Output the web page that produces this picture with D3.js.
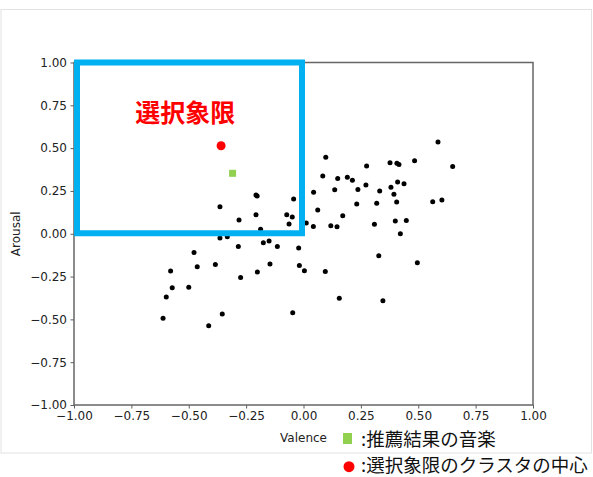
<!DOCTYPE html>
<html>
<head>
<meta charset="utf-8">
<script src="https://cdn.jsdelivr.net/npm/d3@7"></script>
<style>
body { margin: 0; background: #fff; }
</style>
</head>
<body>
<div id="container"></div>
<script>
// valence / arousal of each song (black dots)
var valence = [-0.207, -0.202, -0.364, -0.281, -0.207, -0.187, -0.364, -0.332, -0.150, -0.284,
    -0.175, -0.114, -0.477, -0.579, -0.463, -0.384, -0.274, -0.201, -0.146, -0.572,
    -0.500, -0.598, -0.612, -0.354, -0.413, 0.097, 0.275, 0.377, 0.407, 0.416,
    0.084, 0.149, 0.191, 0.213, 0.410, 0.438, 0.272, 0.381, 0.044, 0.136,
    0.237, 0.332, 0.394, -0.043, 0.062, 0.232, 0.319, 0.406, -0.073, -0.049,
    0.171, -0.063, 0.012, 0.043, 0.119, 0.146, 0.309, 0.400, 0.448, 0.422,
    -0.021, -0.018, 0.004, 0.095, 0.328, 0.156, 0.346, -0.047, 0.586, 0.484,
    0.650, 0.563, 0.603, 0.496];
var arousal = [0.227, 0.220, 0.158, 0.080, 0.111, 0.026, -0.025, -0.017, -0.042, -0.075,
    -0.052, -0.075, -0.110, -0.217, -0.192, -0.179, -0.256, -0.223, -0.177, -0.315,
    -0.313, -0.369, -0.494, -0.469, -0.537, 0.446, 0.396, 0.415, 0.411, 0.405,
    0.337, 0.322, 0.330, 0.312, 0.302, 0.292, 0.285, 0.271, 0.242, 0.257,
    0.259, 0.250, 0.230, 0.203, 0.139, 0.174, 0.178, 0.185, 0.111, 0.098,
    0.105, 0.057, 0.063, 0.043, 0.047, 0.041, 0.055, 0.074, 0.078, 0.000,
    -0.083, -0.186, -0.216, -0.221, -0.128, -0.377, -0.391, -0.461, 0.536, 0.427,
    0.392, 0.187, 0.197, -0.169];

var recommended = [-0.309, 0.353];   // green square
var clusterCenter = [-0.359, 0.514]; // red circle
var quadrant = {x: [-1, 0], y: [0, 1]};

var ticks = [-1.00, -0.75, -0.50, -0.25, 0.00, 0.25, 0.50, 0.75, 1.00];
var legendLabels = [":推薦結果の音楽", ":選択象限のクラスタの中心"];
var quadrantLabel = "選択象限";

var W = 593, H = 477;
var margin = {top: 62.5, right: 60, bottom: 72, left: 74};
var width = 533 - margin.left, height = 405 - margin.top;

var svg = d3.select("#container").append("svg")
    .attr("width", W).attr("height", H)
    .style("font-family", "DejaVu Sans, sans-serif");

// light frame round the figure
svg.append("rect")
    .attr("x", 1).attr("y", 9.5).attr("width", 590.5).attr("height", 443.5)
    .attr("fill", "none").attr("stroke", "#e2e2e2").attr("stroke-width", 1);

var g = svg.append("g").attr("transform", "translate(" + margin.left + "," + margin.top + ")");

var x = d3.scaleLinear().domain([-1, 1]).range([0, width]);
var y = d3.scaleLinear().domain([-1, 1]).range([height, 0]);

var fmt = function(d) { return d3.format(".2f")(d).replace("-", "\u2212"); };

var xAxis = g.append("g").attr("transform", "translate(0," + height + ")")
    .call(d3.axisBottom(x).tickValues(ticks).tickFormat(fmt).tickSize(3.5).tickPadding(3));
var yAxis = g.append("g")
    .call(d3.axisLeft(y).tickValues(ticks).tickFormat(fmt).tickSize(3.5).tickPadding(3.5));
[xAxis, yAxis].forEach(function(a) {
    a.select(".domain").remove();
    a.selectAll("line").attr("stroke", "#333").attr("stroke-width", 0.8);
    a.selectAll("text").attr("font-size", "12px").attr("fill", "#222")
        .attr("font-family", "DejaVu Sans, sans-serif");
});

// spines
g.append("rect")
    .attr("width", width).attr("height", height)
    .attr("fill", "none").attr("stroke", "#666").attr("stroke-width", 1.5);

// axis titles
g.append("text")
    .attr("x", x(0)).attr("y", height + 37)
    .attr("text-anchor", "middle").attr("font-size", "12px").attr("fill", "#222")
    .text("Valence");
g.append("text")
    .attr("transform", "translate(" + (-54) + "," + y(0) + ") rotate(-90)")
    .attr("text-anchor", "middle").attr("font-size", "12px").attr("fill", "#222")
    .text("Arousal");

// songs
g.selectAll(".dot")
    .data(d3.range(valence.length))
    .enter().append("circle")
    .attr("class", "dot")
    .attr("cx", function(i) { return x(valence[i]); })
    .attr("cy", function(i) { return y(arousal[i]); })
    .attr("r", 2.5)
    .attr("fill", "#000");

// selected quadrant box
g.append("rect")
    .attr("x", x(quadrant.x[0]) + 3)
    .attr("y", y(quadrant.y[1]))
    .attr("width", x(quadrant.x[1]) - x(quadrant.x[0]) - 4.5)
    .attr("height", y(quadrant.y[0]) - y(quadrant.y[1]) - 0.5)
    .attr("fill", "none").attr("stroke", "#00b0f0").attr("stroke-width", 6);

g.append("text")
    .attr("x", x(-0.515)).attr("y", y(0.65))
    .attr("text-anchor", "middle")
    .attr("font-family", "Noto Sans CJK JP, sans-serif")
    .attr("font-weight", "bold").attr("font-size", "25px").attr("fill", "#ff0000")
    .text(quadrantLabel);

g.append("circle")
    .attr("cx", x(clusterCenter[0])).attr("cy", y(clusterCenter[1]))
    .attr("r", 4.5).attr("fill", "#ff0000");

g.append("rect")
    .attr("x", x(recommended[0]) - 3.5).attr("y", y(recommended[1]) - 3.5)
    .attr("width", 7).attr("height", 7).attr("fill", "#92d050");

// legend below the plot
var legend = svg.append("g").attr("font-family", "Noto Sans CJK JP, sans-serif");
legend.append("rect")
    .attr("x", 343).attr("y", 433).attr("width", 9).attr("height", 11)
    .attr("fill", "#92d050");
legend.append("circle")
    .attr("cx", 349).attr("cy", 466.7).attr("r", 5.5).attr("fill", "#ff0000");
legend.selectAll(".lab")
    .data(legendLabels)
    .enter().append("text")
    .attr("class", "lab")
    .attr("x", 361)
    .attr("y", function(d, i) { return 446 + i * 26; })
    .attr("font-size", "18.5px").attr("fill", "#111")
    .text(function(d) { return d; });
</script>
</body>
</html>
